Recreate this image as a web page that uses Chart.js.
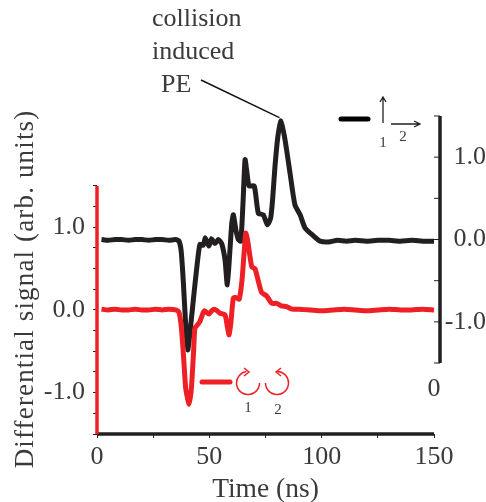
<!DOCTYPE html>
<html>
<head>
<meta charset="utf-8">
<title>Differential signal</title>
<script src="https://cdn.jsdelivr.net/npm/chart.js@4"></script>
<style>
  html, body { margin: 0; padding: 0; background: #fff; }
  canvas { display: block; }
</style>
</head>
<body>
<canvas id="grafico" width="486" height="502"></canvas>
<script>
// data
const redTimes = [2, 5, 8, 11, 14, 17, 20, 23, 26, 29, 32, 35, 36.5, 37.5, 38.5, 39.5, 41, 42, 43, 43.6, 45, 45.8, 47, 47.8, 49.8, 51, 52.2, 53.5, 54.7, 57, 58, 58.8, 59.6, 60.7, 62, 63.3, 64.5, 65.5, 66.2, 67, 68.9, 70.3, 71.8, 73.3, 75.5, 77.8, 80, 82, 84.4, 86.7, 90, 95, 100, 105, 110, 115, 120, 125, 130, 135, 140, 145, 150]
const redValues = [0.01, 0, 0.01, 0, 0, 0.01, 0, 0, 0.01, 0, 0.01, 0, -0.03, -0.2, -0.55, -0.95, -1.14, -0.95, -0.5, -0.22, -0.17, -0.14, -0.05, -0.01, -0.05, -0.01, 0.01, -0.01, -0.04, -0.06, -0.2, -0.3, -0.15, 0.145, 0.15, 0.13, 0.35, 0.7, 0.93, 0.85, 0.52, 0.5, 0.35, 0.21, 0.17, 0.08, 0.08, 0.05, 0.04, 0.01, 0.01, 0, -0.01, 0, 0.01, 0, -0.01, 0, 0.01, 0, 0, 0.01, 0]
const blackTimes = [2, 5, 8, 11, 14, 17, 20, 23, 26, 29, 32, 35, 36.5, 37.5, 38.5, 39.5, 40.4, 41.5, 43, 44.5, 45.8, 47.3, 48.2, 49.8, 51, 52.5, 54, 55.5, 57, 58, 59, 60, 60.7, 61.8, 62.9, 64, 65, 65.9, 66.8, 67.7, 70, 71.8, 74, 75.8, 77.3, 78.2, 79.2, 80.5, 81.9, 83.7, 85.9, 88.1, 90.4, 92.6, 96.1, 99.3, 103, 107, 111, 115, 120, 125, 130, 135, 140, 145, 150]
const blackValues = [0, -0.01, 0, 0, -0.01, 0, 0, -0.01, 0, 0, -0.01, 0, -0.02, -0.15, -0.55, -1.05, -1.34, -1.1, -0.7, -0.32, -0.06, -0.07, 0.02, -0.08, 0.01, -0.05, 0, -0.05, -0.25, -0.55, -0.2, 0.2, 0.3, 0.12, 0, -0.02, 0.45, 0.97, 0.8, 0.65, 0.65, 0.32, 0.3, 0.18, 0.26, 0.5, 0.88, 1.25, 1.44, 1.21, 0.81, 0.42, 0.3, 0.14, 0.05, -0.02, -0.03, -0.01, -0.02, -0.01, -0.02, -0.01, -0.01, -0.02, -0.01, -0.02, -0.02]

const xTicks = [0, 25, 50, 75, 100, 125, 150]
const xLabelled = [0, 50, 100, 150]
const redTicks = [-1.5, -1.25, -1, -0.75, -0.5, -0.25, 0, 0.25, 0.5, 0.75, 1, 1.25, 1.5]
const redLabelled = [-1, 0, 1]
const blackTicks = [-1.5, -1, -0.5, 0, 0.5, 1, 1.5]
const blackLabelled = [-1, 0, 1]

const font = "'Liberation Serif', serif"
const ink = '#3a3a3a'
const red = '#ee2026'
const black = '#231f20'

function pair(xs, ys) {
  return xs.map((x, i) => ({ x, y: ys[i] }))
}
function fixTicks(list) {
  return scale => { scale.ticks = list.map(value => ({ value })) }
}
function oneDecimal(list) {
  return v => list.includes(v) ? (v < 0 ? '-' : '') + Math.abs(v).toFixed(1) : ''
}

// axis lines, annotation and the little polarisation symbols
const extras = {
  id: 'extras',
  afterDatasetsDraw(chart) {
    const c = chart.ctx
    const x = chart.scales.x, yL = chart.scales.y, yR = chart.scales.y2
    const axisX = 440
    c.save()
    c.lineCap = 'butt'

    // right axis, ticks point inward
    c.strokeStyle = black
    c.lineWidth = 1
    blackTicks.forEach(v => {
      const p = yR.getPixelForValue(v)
      c.beginPath(); c.moveTo(axisX - 6, p); c.lineTo(axisX, p); c.stroke()
    })
    c.lineWidth = 3.5
    c.beginPath()
    c.moveTo(axisX, yR.getPixelForValue(1.5))
    c.lineTo(axisX, yR.getPixelForValue(-1.5))
    c.stroke()

    // bottom and left axes
    c.beginPath(); c.moveTo(x.left, x.top); c.lineTo(x.right, x.top); c.stroke()
    c.strokeStyle = red
    c.beginPath()
    c.moveTo(x.left, yL.getPixelForValue(-1.5))
    c.lineTo(x.left, yL.getPixelForValue(1.5))
    c.stroke()

    // leader to the collision peak
    c.strokeStyle = '#111'
    c.lineWidth = 1.4
    c.beginPath()
    c.moveTo(201, 80)
    c.lineTo(x.getPixelForValue(81.2), yR.getPixelForValue(1.48))
    c.stroke()

    // black legend
    c.lineCap = 'round'
    c.lineWidth = 5
    c.strokeStyle = '#000'
    c.beginPath(); c.moveTo(341, 119); c.lineTo(368, 119); c.stroke()
    c.lineCap = 'butt'
    c.lineWidth = 1.3
    c.strokeStyle = '#222'
    c.beginPath()
    c.moveTo(383, 123); c.lineTo(383, 97)
    c.moveTo(380, 102); c.lineTo(383, 97); c.lineTo(386, 102)
    c.moveTo(391, 124); c.lineTo(419, 124)
    c.moveTo(414, 121); c.lineTo(420, 124); c.lineTo(414, 127)
    c.stroke()

    // red legend
    c.lineCap = 'round'
    c.lineWidth = 5
    c.strokeStyle = red
    c.beginPath(); c.moveTo(202, 382); c.lineTo(230, 382); c.stroke()
    c.lineCap = 'butt'
    c.lineWidth = 1.5
    c.beginPath()
    c.arc(248, 383, 11.5, 0, 1.5 * Math.PI * 0.97)
    c.moveTo(244, 368); c.lineTo(249, 372); c.lineTo(244, 376)
    c.stroke()
    c.beginPath()
    c.arc(277, 383, 11.5, Math.PI, 1.5 * Math.PI * 1.01, true)
    c.moveTo(281, 368); c.lineTo(276, 372); c.lineTo(281, 376)
    c.stroke()

    // texts
    c.fillStyle = ink
    c.textBaseline = 'alphabetic'
    c.textAlign = 'left'
    c.font = '26px ' + font
    c.fillText('collision', 152, 26)
    c.fillText('induced', 152, 59)
    c.fillText('PE', 161, 92)

    c.textAlign = 'center'
    c.fillText('0', 434, 396)

    c.font = '15px ' + font
    c.fillText('1', 383, 147)
    c.fillText('2', 403, 141)
    c.fillText('1', 248, 412)
    c.fillText('2', 278, 414)

    c.save()
    c.translate(33, 289)
    c.rotate(-Math.PI / 2)
    c.font = '27px ' + font
    c.letterSpacing = '1.15px'
    c.fillText('Differential signal (arb. units)', 0, 0)
    c.restore()

    c.restore()
  }
}

new Chart(document.getElementById('grafico'), {
  type: 'line',
  data: {
    datasets: [
      { data: pair(redTimes, redValues), yAxisID: 'y', borderColor: red, borderWidth: 5, tension: 0.2, pointRadius: 0, clip: false },
      { data: pair(blackTimes, blackValues), yAxisID: 'y2', borderColor: black, borderWidth: 5, tension: 0.2, pointRadius: 0, clip: false }
    ]
  },
  options: {
    responsive: false,
    animation: false,
    layout: { padding: { top: 116 } },
    plugins: { legend: { display: false }, tooltip: { enabled: false } },
    scales: {
      x: {
        type: 'linear',
        min: 0,
        max: 150,
        afterBuildTicks: fixTicks(xTicks),
        afterFit: s => { s.height = 68 },
        border: { display: false },
        grid: { drawOnChartArea: false, tickLength: 4, tickColor: black },
        ticks: {
          autoSkip: false,
          maxRotation: 0,
          color: ink,
          padding: 4,
          font: { family: font, size: 26 },
          callback: v => xLabelled.includes(v) ? String(v) : ''
        },
        title: { display: true, text: 'Time (ns)', color: ink, padding: { top: 0, bottom: -4 }, font: { family: font, size: 27.5 } }
      },
      y: {
        position: 'left',
        min: -1.5,
        max: 2.346,
        afterBuildTicks: fixTicks(redTicks),
        afterFit: s => { s.width = 97 },
        border: { display: false },
        grid: { drawOnChartArea: false, tickLength: 4, tickColor: black },
        ticks: {
          autoSkip: false,
          color: ink,
          padding: 8,
          font: { family: font, size: 26 },
          callback: oneDecimal(redLabelled)
        }
      },
      y2: {
        position: 'right',
        min: -2.362,
        max: 1.5,
        afterBuildTicks: fixTicks(blackTicks),
        afterFit: s => { s.width = 52 },
        border: { display: false },
        grid: { drawOnChartArea: false, drawTicks: false },
        ticks: {
          autoSkip: false,
          color: ink,
          padding: 11,
          crossAlign: 'far',
          font: { family: font, size: 26 },
          callback: oneDecimal(blackLabelled)
        }
      }
    }
  },
  plugins: [extras]
})
</script>
</body>
</html>
